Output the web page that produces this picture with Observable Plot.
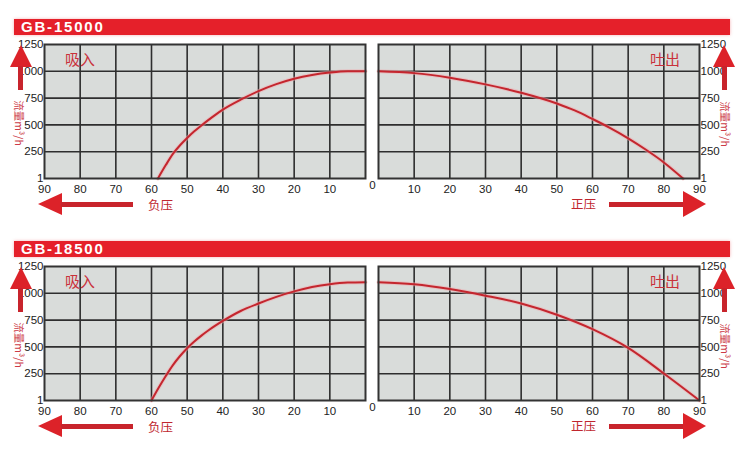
<!DOCTYPE html>
<html>
<head>
<meta charset="utf-8">
<script src="https://cdn.jsdelivr.net/npm/d3@7"></script>
<script src="https://cdn.jsdelivr.net/npm/@observablehq/plot@0.6"></script>
<style>
  html, body { margin: 0; padding: 0; background: #fff; }
  #root { position: relative; width: 750px; height: 450px; overflow: hidden; background: #fff; font-family: "Liberation Sans", Arial, sans-serif; }
  .abs { position: absolute; }
  .bar { position: absolute; left: 14px; width: 716px; height: 16px; background: #e5202a; color: #fff; font-weight: bold; font-size: 15px; line-height: 16px; letter-spacing: 1.8px; padding-left: 7px; box-sizing: border-box; box-shadow: 0 0 3px rgba(229,32,42,0.35); }
  .cjk { position: absolute; font-family: "Noto Sans CJK SC", sans-serif; line-height: 1; white-space: nowrap; color: #c9313a; }
  .ytitle { position: absolute; font-family: "Noto Sans CJK SC", sans-serif; font-size: 10.5px; line-height: 1; white-space: nowrap; color: #cc3b47; transform: translate(-50%, -50%) rotate(90deg); }
</style>
</head>
<body>
<div id="root"></div>
<script>
// ---- data ----
const models = ["GB-15000", "GB-18500"];
const xTicks = [0, 10, 20, 30, 40, 50, 60, 70, 80, 90];
const yTicks = [0, 250, 500, 750, 1000, 1250];
const yTickLabels = ["1", "250", "500", "750", "1000", "1250"];
const sideLabels = ["吸入", "吐出"];
const pressureLabels = ["负压", "正压"];
const yTitle = "流量m³/h";

// GB-15000
const suctionP15 = [58.2, 56, 54, 52, 50, 48, 46, 44, 42, 40, 35, 30, 25, 20, 15, 10, 5, 0];
const suctionQ15 = [0, 125, 230, 310, 378, 440, 495, 547, 596, 642, 735, 815, 880, 930, 965, 988, 1000, 1000];
const dischargeP15 = [0, 10, 20, 30, 40, 50, 55, 60, 65, 70, 75, 80, 85.4];
const dischargeQ15 = [1000, 983, 940, 878, 800, 700, 635, 555, 470, 375, 268, 150, 0];
// GB-18500
const suctionP18 = [60, 58, 56, 54, 52, 50, 48, 46, 44, 42, 40, 35, 30, 25, 20, 15, 10, 5, 0];
const suctionQ18 = [0, 118, 228, 330, 415, 488, 550, 605, 655, 700, 742, 835, 905, 967, 1018, 1058, 1085, 1100, 1103];
const dischargeP18 = [0, 10, 20, 30, 40, 50, 60, 70, 80, 90];
const dischargeQ18 = [1103, 1084, 1040, 978, 905, 800, 665, 490, 252, 0];

const zip = (P, Q) => P.map((p, i) => ({p, q: Q[i]})).sort((a, b) => a.p - b.p);
const series = [
  [zip(suctionP15, suctionQ15), zip(dischargeP15, dischargeQ15)],
  [zip(suctionP18, suctionQ18), zip(dischargeP18, dischargeQ18)]
];

// ---- layout ----
const root = document.getElementById("root");
const rowTop = [44, 266];
const gridH = 134;
const gridW = 321;
const leftX = 44, rightX = 378;
const mTop = 10, mBottom = 30;

function grid(data, left) {
  const mL = left ? 44 : 6;
  const mR = left ? 14 : 51;
  const innerTicks = xTicks.filter(d => d > 0 && d < 90);
  const labelTicks = xTicks.filter(d => d > 0);
  return Plot.plot({
    width: mL + gridW + mR,
    height: mTop + gridH + mBottom,
    marginLeft: mL, marginRight: mR, marginTop: mTop, marginBottom: mBottom,
    x: {domain: left ? [90, 0] : [0, 90]},
    y: {domain: [0, 1250]},
    style: {background: "transparent", fontFamily: "'Liberation Sans', Arial, sans-serif", fontSize: "11.5px", color: "#222", overflow: "visible"},
    marks: [
      Plot.frame({fill: "#d9dcda"}),
      Plot.gridX(innerTicks, {stroke: "#2e2e2e", strokeOpacity: 1, strokeWidth: 1.6}),
      Plot.gridY(yTicks.filter(d => d > 0 && d < 1250), {stroke: "#2e2e2e", strokeOpacity: 1, strokeWidth: 1.6}),
      Plot.line(data, {x: "p", y: "q", stroke: "#f2a9ae", strokeWidth: 4, strokeOpacity: 0.5, curve: "monotone-x"}),
      Plot.line(data, {x: "p", y: "q", stroke: "#c4262e", strokeWidth: 2, curve: "monotone-x"}),
      Plot.frame({stroke: "#333", strokeWidth: 2}),
      Plot.axisY(yTicks, {anchor: left ? "left" : "right", label: null, tickSize: 0, tickPadding: 1, tickFormat: d => yTickLabels[yTicks.indexOf(d)], fill: "#222"}),
      Plot.axisX(labelTicks, {anchor: "bottom", label: null, tickSize: 0, tickPadding: 6, tickFormat: d => String(d), fill: "#222"}),
      left ? Plot.text([0], {x: d => d, frameAnchor: "bottom", dy: 10, dx: 7, text: d => String(d), fill: "#222"}) : null
    ].filter(Boolean)
  });
}

function place(el, left, top) {
  const wrap = document.createElement("div");
  wrap.className = "abs";
  wrap.style.left = left + "px";
  wrap.style.top = top + "px";
  wrap.appendChild(el);
  root.appendChild(wrap);
}

function addDiv(cls, styles, text) {
  const d = document.createElement("div");
  d.className = cls;
  Object.assign(d.style, styles);
  if (text != null) d.textContent = text;
  root.appendChild(d);
  return d;
}

models.forEach((m, r) => {
  const gt = rowTop[r];
  addDiv("bar", {top: (gt - 25) + "px"}, m);
  place(grid(series[r][0], true), leftX - 44, gt - mTop);
  place(grid(series[r][1], false), rightX - 6, gt - mTop);
  addDiv("cjk", {left: "65px", top: (gt + 7) + "px", fontSize: "15px"}, sideLabels[0]);
  addDiv("cjk", {left: "650px", top: (gt + 7) + "px", fontSize: "15px"}, sideLabels[1]);
  addDiv("ytitle", {left: "19px", top: (gt + 79) + "px"}, yTitle);
  addDiv("ytitle", {left: "725px", top: (gt + 80) + "px"}, yTitle);
  [[10, 18], [713, 722]].forEach(([hx, sx]) => {
    addDiv("abs", {left: hx + "px", top: (gt + 1) + "px", width: 0, height: 0,
      borderLeft: "11px solid transparent", borderRight: "11px solid transparent", borderBottom: "22px solid #dc2229"});
    addDiv("abs", {left: sx + "px", top: (gt + 22) + "px", width: "5px", height: "24px", background: "#c8242c"});
  });
  const ay = gt + gridH + 26;
  addDiv("abs", {left: "38px", top: (ay - 11) + "px", width: 0, height: 0,
    borderTop: "11px solid transparent", borderBottom: "11px solid transparent", borderRight: "24px solid #dc2229"});
  addDiv("abs", {left: "61px", top: (ay - 2) + "px", width: "72px", height: "5px", background: "#c8242c"});
  addDiv("abs", {left: "609px", top: (ay - 2) + "px", width: "75px", height: "5px", background: "#c8242c"});
  addDiv("abs", {left: "683px", top: (ay - 13) + "px", width: 0, height: 0,
    borderTop: "13px solid transparent", borderBottom: "13px solid transparent", borderLeft: "23px solid #dc2229"});
  addDiv("cjk", {left: "148px", top: (ay - 5) + "px", fontSize: "12.5px", color: "#c0262e"}, pressureLabels[0]);
  addDiv("cjk", {left: "571px", top: (ay - 6) + "px", fontSize: "12.5px", color: "#c0262e"}, pressureLabels[1]);
});
</script>
</body>
</html>
